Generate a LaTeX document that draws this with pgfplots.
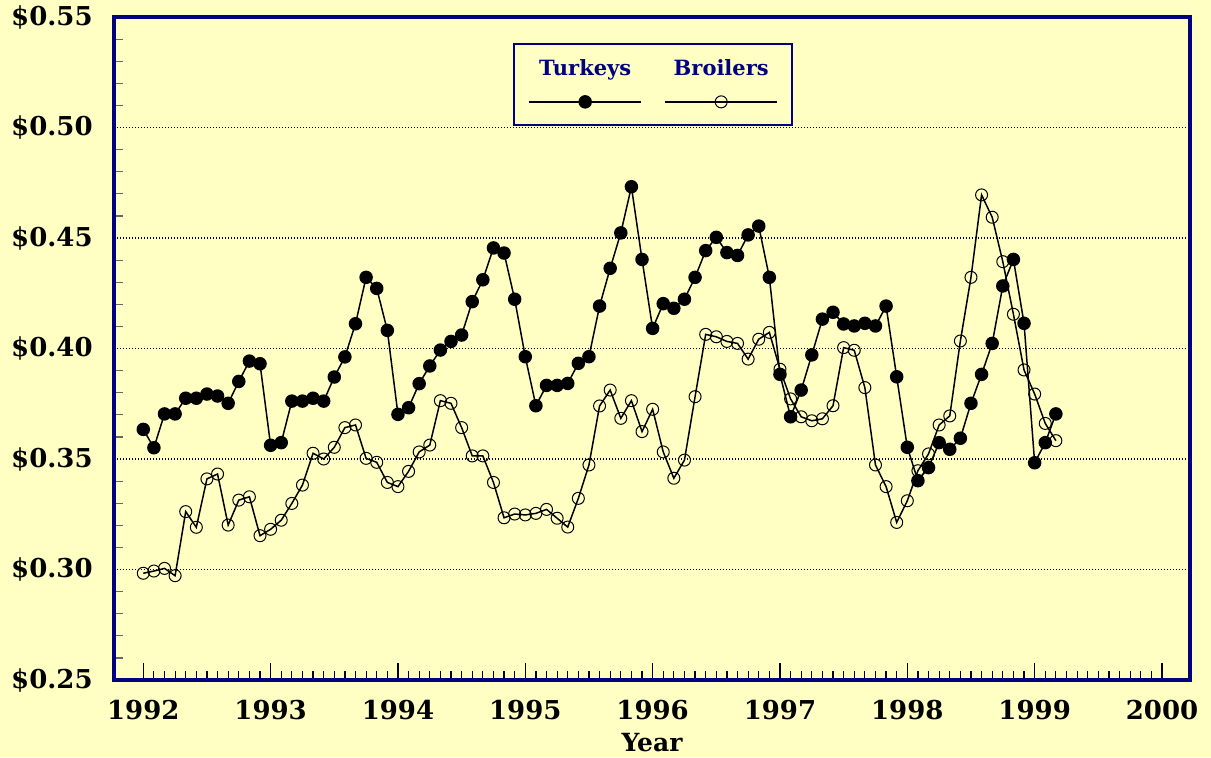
\documentclass[border=0pt]{standalone}
\usepackage{fontspec}
\setmainfont{DejaVu Serif}
\usepackage{pgfplots}
\usepackage{pgfplotstable}
\pgfplotsset{compat=1.18}
\definecolor{bgy}{RGB}{255,255,196}
\definecolor{navyb}{RGB}{0,0,128}
\pgfplotstableread{
m t b
0 0.3634 0.2983
1 0.3551 0.2993
2 0.3704 0.3005
3 0.3704 0.2972
4 0.3775 0.3262
5 0.3775 0.3191
6 0.3794 0.3410
7 0.3785 0.3432
8 0.3752 0.3201
9 0.3851 0.3314
10 0.3943 0.3329
11 0.3931 0.3153
12 0.3562 0.3182
13 0.3574 0.3223
14 0.3762 0.3299
15 0.3762 0.3382
16 0.3775 0.3526
17 0.3762 0.3500
18 0.3871 0.3553
19 0.3962 0.3642
20 0.4112 0.3654
21 0.4322 0.3503
22 0.4272 0.3485
23 0.4082 0.3394
24 0.3702 0.3375
25 0.3732 0.3444
26 0.3841 0.3532
27 0.3921 0.3563
28 0.3993 0.3764
29 0.4032 0.3752
30 0.4061 0.3642
31 0.4212 0.3514
32 0.4311 0.3514
33 0.4455 0.3394
34 0.4432 0.3234
35 0.4223 0.3251
36 0.3963 0.3247
37 0.3741 0.3254
38 0.3833 0.3272
39 0.3833 0.3232
40 0.3842 0.3192
41 0.3933 0.3322
42 0.3963 0.3473
43 0.4192 0.3740
44 0.4363 0.3812
45 0.4523 0.3684
46 0.4732 0.3764
47 0.4403 0.3624
48 0.4091 0.3725
49 0.4203 0.3532
50 0.4182 0.3413
51 0.4223 0.3495
52 0.4322 0.3782
53 0.4443 0.4064
54 0.4503 0.4053
55 0.4434 0.4032
56 0.4421 0.4023
57 0.4514 0.3952
58 0.4554 0.4042
59 0.4322 0.4073
60 0.3883 0.3906
61 0.3691 0.3772
62 0.3812 0.3691
63 0.3971 0.3673
64 0.4133 0.3682
65 0.4164 0.3741
66 0.4111 0.4004
67 0.4102 0.3992
68 0.4114 0.3823
69 0.4102 0.3473
70 0.4192 0.3375
71 0.3872 0.3213
72 0.3553 0.3311
73 0.3402 0.3447
74 0.3461 0.3523
75 0.3574 0.3654
76 0.3544 0.3695
77 0.3594 0.4034
78 0.3752 0.4322
79 0.3883 0.4695
80 0.4023 0.4594
81 0.4283 0.4393
82 0.4403 0.4155
83 0.4114 0.3903
84 0.3483 0.3794
85 0.3574 0.3661
86 0.3704 0.3583
}\data
\begin{document}
\begin{tikzpicture}
\fill[bgy] (-57pt,-38.5pt) rectangle (548.5pt,340pt);
\begin{axis}[
  scale only axis, width=538pt, height=331.5pt,
  at={(0pt,0pt)}, anchor=south west,
  xmin=1991.77, xmax=2000.22, ymin=0.25, ymax=0.55,
  axis background/.style={fill=bgy},
  axis line style={navyb, line width=2pt},
  tick align=inside, xtick pos=bottom, ytick pos=left,
  xtick={1992,1993,1994,1995,1996,1997,1998,1999,2000},
  xticklabels={1992,1993,1994,1995,1996,1997,1998,1999,2000},
  minor x tick num=11,
  ytick={0.25,0.30,0.35,0.40,0.45,0.50,0.55},
  yticklabels={\$0.25,\$0.30,\$0.35,\$0.40,\$0.45,\$0.50,\$0.55},
  minor y tick num=4,
  major tick length=8.5pt, minor tick length=4.5pt,
  xtick style={black, line width=0.6pt},
  ytick style={black!60, line width=0.6pt},
  every major y tick/.style={draw=none},
  ymajorgrids,
  grid style={black, line width=0.7pt, dash pattern=on 0.7pt off 0.8pt},
  /pgf/number format/assume math mode=true,
  tick label style={font=\bfseries\fontsize{13}{15}\selectfont},
  xticklabel style={inner sep=0pt, yshift=-10pt},
  yticklabel style={inner sep=0pt, xshift=-10.5pt},
  xlabel={Year},
  xlabel style={at={(axis description cs:0.5,0)}, anchor=north, inner sep=0pt, yshift=-26.5pt, font=\bfseries\fontsize{12.5}{14}\selectfont},
  legend columns=2,
  legend style={at={(rel axis cs:0.371,0.961)}, anchor=north west, draw=navyb, line width=1pt, fill=bgy, inner sep=0pt, column sep=0pt, cells={anchor=center}, nodes={inner sep=0pt, outer sep=0pt, text depth=0pt, draw=none}},
]
\addplot[black, line width=0.75pt, mark=*, mark size=3pt, mark options={solid},
  legend image code/.code={
    \path[draw=none, fill=none] (-7.5pt,-11.5pt) rectangle (60.75pt,29pt);
    \draw[mark repeat=2,mark phase=2] plot coordinates {(0pt,0pt) (28pt,0pt) (56pt,0pt)};
    \node[text=navyb, font=\bfseries\fontsize{10.5}{12}\selectfont, inner sep=0pt] at (28pt,17pt) {Turkeys};
  }] table[x expr=1992+\thisrow{m}/12, y=t]{\data};
\addlegendentry{}
\addplot[black, line width=0.75pt, mark=o, mark size=3pt, mark options={solid, line width=0.5pt},
  legend image code/.code={
    \path[draw=none, fill=none] (-6.25pt,-11.5pt) rectangle (62.5pt,29pt);
    \draw[mark repeat=2,mark phase=2] plot coordinates {(0pt,0pt) (28pt,0pt) (56pt,0pt)};
    \node[text=navyb, font=\bfseries\fontsize{10.5}{12}\selectfont, inner sep=0pt] at (28pt,17pt) {Broilers};
  }] table[x expr=1992+\thisrow{m}/12, y=b]{\data};
\addlegendentry{}
\end{axis}
\pgfresetboundingbox
\path[use as bounding box] (-57pt,-38.5pt) rectangle (548.5pt,340pt);
\end{tikzpicture}
\end{document}
